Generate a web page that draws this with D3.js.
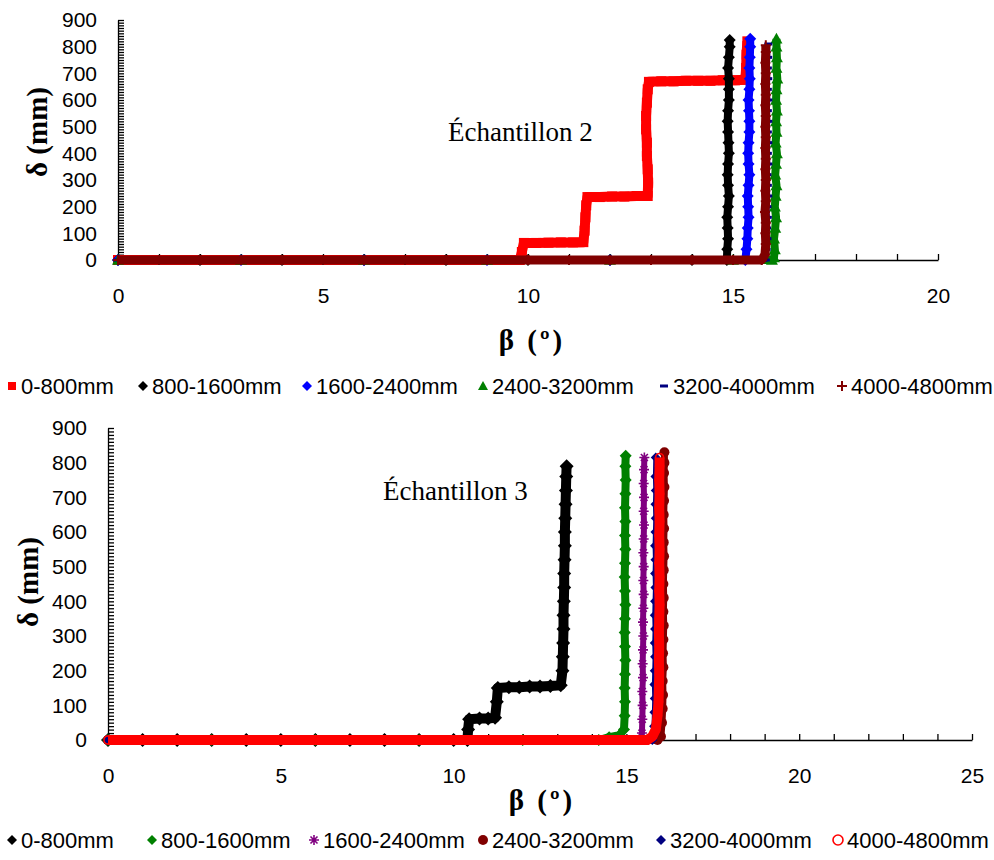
<!DOCTYPE html>
<html><head><meta charset="utf-8">
<script src="https://cdn.jsdelivr.net/npm/d3@7"></script>
<style>
body{margin:0;background:#fff}
svg{display:block}
.tk text{font-family:"Liberation Sans",Arial,sans-serif;font-size:21px;fill:#000}
.lg{font-family:"Liberation Sans",Arial,sans-serif;font-size:22px;fill:#000}
.ttl{font-family:"Liberation Serif","Times New Roman",serif;font-weight:bold;font-size:29px;fill:#000}
.ann{font-family:"Liberation Serif","Times New Roman",serif;font-size:27px;fill:#000}
</style>
</head><body>
<svg id="c" width="994" height="860"></svg>
<script>
// ---------------- DATA ----------------
const seriesNames = ["0-800mm","800-1600mm","1600-2400mm","2400-3200mm","3200-4000mm","4000-4800mm"];
const yTickLabels = [0,100,200,300,400,500,600,700,800,900];
const xTickLabels2 = [0,5,10,15,20];
const xTickLabels3 = [0,5,10,15,20,25];

// Échantillon 2  ([β, δ])
const e2_s1 = [[0,0],[1,0],[2,0],[3,0],[4,0],[5,0],[6,0],[7,0],[8,0],[9,0],[9.8,0],[9.85,30],[9.9,64],[10.2,64],[10.5,65],[10.8,66],[11.1,66],[11.35,67],[11.38,110],[11.4,160],[11.42,205],[11.45,236],[11.75,236],[12.05,238],[12.35,238],[12.65,240],[12.92,240],[12.93,290],[12.92,340],[12.9,390],[12.9,440],[12.88,490],[12.88,540],[12.9,590],[12.92,640],[12.95,668],[13.25,670],[13.55,670],[13.85,672],[14.15,672],[14.45,672],[14.75,674],[15.05,674],[15.3,676],[15.32,720],[15.33,770],[15.35,820]];
const e2_s2 = [[0,0],[2,0],[4,0],[6,0],[8,0],[10,0],[12,0],[14,0],[14.85,0],[14.86,40],[14.88,80],[14.87,120],[14.86,160],[14.88,200],[14.9,240],[14.88,280],[14.87,320],[14.88,360],[14.9,400],[14.89,440],[14.88,480],[14.87,520],[14.88,560],[14.9,600],[14.9,640],[14.9,680],[14.88,720],[14.9,760],[14.92,800],[14.92,825]];
const e2_s3 = [[0,0],[3,0],[6,0],[9,0],[12,0],[15.3,0],[15.33,40],[15.35,80],[15.36,120],[15.38,160],[15.37,200],[15.36,240],[15.38,280],[15.4,320],[15.38,360],[15.37,400],[15.38,440],[15.4,480],[15.4,520],[15.39,560],[15.38,600],[15.4,640],[15.41,680],[15.4,720],[15.41,760],[15.42,800],[15.42,830]];
const e2_s4 = [[0,0],[3,0],[6,0],[9,0],[12,0],[15,0],[15.95,0],[16.0,10],[16.02,40],[16.0,80],[16.03,120],[16.05,160],[16.02,200],[16.04,240],[16.06,280],[16.03,320],[16.05,360],[16.07,400],[16.04,440],[16.06,480],[16.05,520],[16.07,560],[16.05,600],[16.06,640],[16.08,680],[16.06,720],[16.07,760],[16.06,800],[16.06,830]];
const e2_s5 = [[0,0],[3,0],[6,0],[9,0],[12,0],[15,0],[15.8,0],[15.82,40],[15.84,80],[15.83,120],[15.85,160],[15.84,200],[15.86,240],[15.85,280],[15.84,320],[15.86,360],[15.85,400],[15.86,440],[15.85,480],[15.86,520],[15.85,560],[15.86,600],[15.85,640],[15.86,680],[15.85,720],[15.86,760],[15.86,810]];
const e2_s6 = [[0,0],[1,0],[2,0],[3,0],[4,0],[5,0],[6,0],[7,0],[8,0],[9,0],[10,0],[11,0],[12,0],[13,0],[14,0],[15,0],[15.7,0],[15.78,20],[15.8,60],[15.79,100],[15.8,140],[15.78,180],[15.8,220],[15.79,260],[15.8,300],[15.79,340],[15.8,380],[15.79,420],[15.8,460],[15.79,500],[15.8,540],[15.79,580],[15.8,620],[15.79,660],[15.8,700],[15.79,740],[15.8,780],[15.8,805]];

// Échantillon 3  ([β, δ])
const e3_s1 = [[0,0],[1,0],[2,0],[3,0],[4,0],[5,0],[6,0],[7,0],[8,0],[9,0],[10,0],[10.4,0],[10.42,30],[10.45,60],[10.75,62],[11.0,62],[11.2,64],[11.25,110],[11.28,150],[11.6,152],[11.9,152],[12.2,154],[12.5,154],[12.8,156],[13.1,158],[13.15,200],[13.16,240],[13.17,280],[13.18,320],[13.18,360],[13.19,400],[13.2,440],[13.2,480],[13.21,520],[13.22,560],[13.22,600],[13.23,640],[13.24,680],[13.25,720],[13.26,760],[13.27,790]];
const e3_s2 = [[0,0],[3,0],[6,0],[9,0],[12,0],[14.2,0],[14.5,8],[14.8,14],[14.93,30],[14.95,70],[14.96,110],[14.95,150],[14.96,190],[14.97,230],[14.96,270],[14.95,310],[14.96,350],[14.97,390],[14.96,430],[14.95,470],[14.96,510],[14.97,550],[14.96,590],[14.97,630],[14.96,670],[14.97,710],[14.98,750],[14.97,790],[14.98,820]];
const e3_s3 = [[0,0],[3,0],[6,0],[9,0],[12,0],[15.4,0],[15.45,20],[15.46,60],[15.47,100],[15.46,140],[15.48,180],[15.47,220],[15.48,260],[15.49,300],[15.48,340],[15.49,380],[15.5,420],[15.49,460],[15.5,500],[15.49,540],[15.5,580],[15.51,620],[15.5,660],[15.51,700],[15.5,740],[15.51,780],[15.52,815]];
const e3_s4 = [[0,0],[3,0],[6,0],[9,0],[12,0],[15.9,0],[16.0,10],[16.03,50],[16.05,90],[16.06,130],[16.05,170],[16.07,210],[16.06,250],[16.07,290],[16.08,330],[16.07,370],[16.08,410],[16.07,450],[16.08,490],[16.09,530],[16.08,570],[16.09,610],[16.08,650],[16.09,690],[16.1,730],[16.09,770],[16.1,800],[16.1,830]];
const e3_s5 = [[0,0],[3,0],[6,0],[9,0],[12,0],[15.3,0],[15.75,0],[15.8,40],[15.81,80],[15.82,120],[15.81,160],[15.82,200],[15.83,240],[15.82,280],[15.83,320],[15.82,360],[15.83,400],[15.84,440],[15.83,480],[15.84,520],[15.83,560],[15.84,600],[15.85,640],[15.84,680],[15.85,720],[15.84,760],[15.85,815]];
const e3_s6 = [[0,0],[1,0],[2,0],[3,0],[4,0],[5,0],[6,0],[7,0],[8,0],[9,0],[10,0],[11,0],[12,0],[13,0],[14,0],[15,0],[15.6,0],[15.75,10],[15.85,30],[15.9,70],[15.93,110],[15.94,150],[15.95,190],[15.94,230],[15.95,270],[15.94,310],[15.95,350],[15.96,390],[15.95,430],[15.96,470],[15.95,510],[15.96,550],[15.95,590],[15.96,630],[15.95,670],[15.96,710],[15.95,750],[15.96,790],[15.96,815]];

// ---------------- STYLE ----------------
const style2 = [
  {color:"#ff0000", marker:"square",   lw:10, r:5},
  {color:"#000000", marker:"diamond",  lw:8,  r:6},
  {color:"#0000ff", marker:"diamond",  lw:8,  r:6},
  {color:"#008000", marker:"triangle", lw:8,  r:6},
  {color:"#000080", marker:"dash",     lw:4,  r:4},
  {color:"#800000", marker:"plus",     lw:9,  r:5}
];
const style3 = [
  {color:"#000000", marker:"diamond",  lw:10, r:7},
  {color:"#008000", marker:"diamond",  lw:8,  r:6},
  {color:"#800080", marker:"asterisk", lw:6,  r:5},
  {color:"#800000", marker:"dot",      lw:7,  r:5},
  {color:"#000080", marker:"diamond",  lw:5,  r:5},
  {color:"#ff0000", marker:"ocircle",  lw:10, r:4}
];

const svg = d3.select("#c");

function drawMarker(g, type, x, y, r, color, legend){
  if(type==="square") g.append("rect").attr("x",x-r).attr("y",y-r).attr("width",2*r).attr("height",2*r).attr("fill",color);
  else if(type==="diamond") g.append("path").attr("d",`M${x},${y-r}L${x+r},${y}L${x},${y+r}L${x-r},${y}Z`).attr("fill",color);
  else if(type==="triangle") g.append("path").attr("d",`M${x},${y-r}L${x+r},${y+r*0.8}L${x-r},${y+r*0.8}Z`).attr("fill",color);
  else if(type==="dash") g.append("rect").attr("x",x-r).attr("y",y-1.5).attr("width",2*r).attr("height",3).attr("fill",color);
  else if(type==="plus") g.append("path").attr("d",`M${x-r},${y}H${x+r}M${x},${y-r}V${y+r}`).attr("stroke",color).attr("stroke-width",2);
  else if(type==="asterisk") g.append("path").attr("d",`M${x-r},${y}H${x+r}M${x},${y-r}V${y+r}M${x-r*0.7},${y-r*0.7}L${x+r*0.7},${y+r*0.7}M${x-r*0.7},${y+r*0.7}L${x+r*0.7},${y-r*0.7}`).attr("stroke",color).attr("stroke-width",1.6);
  else if(type==="dot") g.append("circle").attr("cx",x).attr("cy",y).attr("r",r).attr("fill",color);
  else if(type==="ocircle") g.append("circle").attr("cx",x).attr("cy",y).attr("r",r).attr("fill",legend?"#fff":"none").attr("stroke",color).attr("stroke-width",1.6);
}

function chart(cfg){
  const x = d3.scaleLinear().domain([0,cfg.xmax]).range([cfg.x0,cfg.x1]);
  const y = d3.scaleLinear().domain([0,900]).range([cfg.y0,cfg.y1]);
  const g = svg.append("g");

  // y minor ticks (inside, right)
  g.append("g").attr("class","tk").attr("transform",`translate(${cfg.x0},0)`)
    .call(d3.axisRight(y).tickValues(d3.range(0,901,10)).tickSize(6).tickSizeOuter(0).tickFormat(""))
    .call(s=>s.selectAll("line,path").attr("stroke","#000").attr("stroke-width",1.3));
  // y labels
  g.append("g").attr("class","tk").attr("transform",`translate(${cfg.x0},0)`)
    .call(d3.axisLeft(y).tickValues(yTickLabels).tickSize(0).tickPadding(21))
    .call(s=>{s.select(".domain").remove(); s.selectAll("text").attr("font-family",null).attr("font-size",null);});
  // x ticks (inside, up)
  g.append("g").attr("class","tk").attr("transform",`translate(0,${cfg.y0})`)
    .call(d3.axisTop(x).tickValues(d3.range(0,cfg.xmax+1,1)).tickSize(6).tickSizeOuter(0).tickFormat(""))
    .call(s=>s.selectAll("line,path").attr("stroke","#000").attr("stroke-width",1.3));
  // x labels
  g.append("g").attr("class","tk").attr("transform",`translate(0,${cfg.y0})`)
    .call(d3.axisBottom(x).tickValues(cfg.xlabels).tickSize(0).tickPadding(cfg.xpad))
    .call(s=>{s.select(".domain").remove(); s.selectAll("text").attr("font-family",null).attr("font-size",null);});

  const line = d3.line().x(d=>x(d[0])).y(d=>y(d[1]));
  cfg.series.forEach((data,i)=>{
    const st = cfg.styles[i];
    const sg = g.append("g");
    sg.append("path").attr("d",line(data)).attr("fill","none").attr("stroke",st.color)
      .attr("stroke-width",st.lw).attr("stroke-linejoin","round");
    data.forEach(d=>drawMarker(sg, st.marker, x(d[0]), y(d[1]), st.r, st.color, false));
  });

  // annotation
  g.append("text").attr("class","ann").attr("x",x(cfg.annPos[0])).attr("y",y(cfg.annPos[1])).text(cfg.ann);
  // titles
  g.append("text").attr("class","ttl").attr("text-anchor","middle")
    .attr("transform",`translate(${cfg.ytx},${cfg.yty}) rotate(-90)`).attr("dy","0.35em").text("δ (mm)");
  g.append("text").attr("class","ttl").attr("text-anchor","middle").attr("letter-spacing","3px")
    .attr("x",cfg.xtx).attr("y",cfg.xty).text("β (º)");

  // legend
  const lg = svg.append("g");
  cfg.legendX.forEach((lx,i)=>{
    const st = cfg.styles[i];
    const mr = st.marker==="dash"?4:(st.marker==="square"?4:5);
    drawMarker(lg, st.marker, lx, cfg.legendY, mr, st.color, true);
    lg.append("text").attr("class","lg").attr("x",lx+9).attr("y",cfg.legendY).attr("dy","0.36em").text(seriesNames[i]);
  });
}

chart({
  xmax:20, x0:118, x1:938, y0:260, y1:20, xlabels:xTickLabels2, xpad:28,
  series:[e2_s1,e2_s2,e2_s3,e2_s4,e2_s5,e2_s6], styles:style2,
  ann:"Échantillon 2", annPos:[8.05,448],
  ytx:37, yty:132, xtx:532, xty:350,
  legendX:[12,143,307,483,664,842], legendY:386
});
chart({
  xmax:25, x0:108, x1:972, y0:740, y1:428, xlabels:xTickLabels3, xpad:28,
  series:[e3_s1,e3_s2,e3_s3,e3_s4,e3_s5,e3_s6], styles:style3,
  ann:"Échantillon 3", annPos:[7.96,692],
  ytx:28, yty:582, xtx:542, xty:810,
  legendX:[12,152,314,483,661,838], legendY:840
});
</script>
</body></html>
